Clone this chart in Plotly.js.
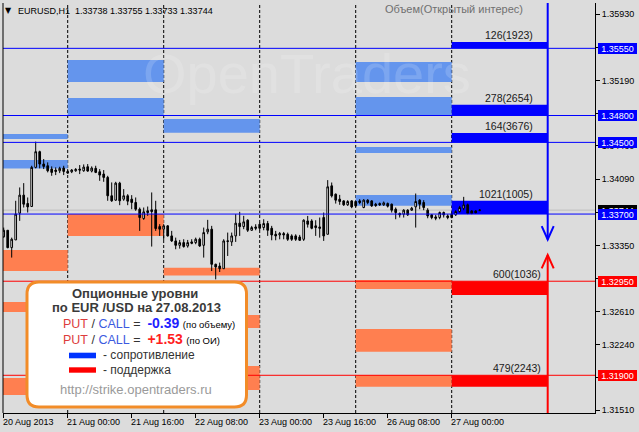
<!DOCTYPE html>
<html><head><meta charset="utf-8">
<script src="https://cdn.plot.ly/plotly-3.0.1.min.js"></script>
<style>html,body{margin:0;padding:0;background:#dcdcdc;}#chart{width:639px;height:432px;}</style>
</head><body><div id="chart"></div>
<script>
// ---------- DATA ----------
const symbolHeader = 'EURUSD,H1  1.33738 1.33755 1.33733 1.33744';
const xTickIdx = [0, 16, 32, 48, 64, 80, 96, 112];
const xTickText = ['20 Aug 2013','21 Aug 00:00','21 Aug 16:00','22 Aug 08:00','23 Aug 00:00','23 Aug 16:00','26 Aug 08:00','27 Aug 00:00'];
const yTickVals = [1.35930,1.35560,1.35190,1.34820,1.34460,1.34090,1.33720,1.33350,1.32980,1.32610,1.32240,1.31870,1.31510];
const daySeparators = [16, 40, 64, 88, 112];
const dayEdges = [-8, 16, 40, 64, 88, 112, 136];

const opens = [1.33445,1.33519,1.33325,1.33411,1.33710,1.33911,1.33818,1.33784,1.34221,1.34396,
1.34258,1.34239,1.34202,1.34191,1.34183,1.34213,1.34176,1.34172,1.34183,1.34202,
1.34183,1.34228,1.34180,1.34210,1.34172,1.34146,1.34109,1.33904,1.33855,1.34045,
1.33866,1.33904,1.33866,1.33829,1.33754,1.33650,1.33736,1.33747,1.33747,1.33560,
1.33531,1.33568,1.33456,1.33400,1.33351,1.33381,1.33344,1.33389,1.33381,1.33419,
1.33351,1.33501,1.33531,1.33139,1.33120,1.33090,1.33393,1.33389,1.33456,1.33598,
1.33560,1.33631,1.33519,1.33556,1.33586,1.33549,1.33594,1.33541,1.33474,1.33467,
1.33482,1.33474,1.33456,1.33456,1.33444,1.33418,1.33623,1.33623,1.33568,1.33556,
1.33661,1.33474,1.34015,1.33922,1.33866,1.33847,1.33803,1.33847,1.33840,1.33847,
1.33773,1.33855,1.33847,1.33810,1.33817,1.33803,1.33817,1.33810,1.33754,1.33706,
1.33698,1.33743,1.33743,1.33780,1.33855,1.33829,1.33743,1.33691,1.33668,1.33661,
1.33717,1.33679,1.33698,1.33691,1.33728,1.33765,1.33803,1.33735,1.33735,1.33738];
const highs = [1.33549,1.33519,1.33437,1.33848,1.33997,1.34045,1.33885,1.34239,1.34508,1.34407,
1.34314,1.34277,1.34232,1.34221,1.34228,1.34239,1.34202,1.34202,1.34213,1.34247,
1.34254,1.34258,1.34232,1.34239,1.34202,1.34191,1.34127,1.34053,1.34060,1.34060,
1.33978,1.33922,1.33911,1.33885,1.33773,1.33773,1.33784,1.33941,1.33848,1.33587,
1.33587,1.33575,1.33512,1.33437,1.33411,1.33419,1.33411,1.33419,1.33437,1.33437,
1.33549,1.33635,1.33568,1.33146,1.33158,1.33419,1.33493,1.33493,1.33699,1.33725,
1.33680,1.33642,1.33568,1.33586,1.33605,1.33642,1.33623,1.33568,1.33512,1.33500,
1.33500,1.33493,1.33474,1.33474,1.33467,1.33642,1.33679,1.33642,1.33631,1.33661,
1.33717,1.34079,1.34052,1.33929,1.33914,1.33855,1.33855,1.33855,1.33847,1.33866,
1.33866,1.33866,1.33855,1.33825,1.33829,1.33840,1.33829,1.33817,1.33773,1.33717,
1.33754,1.33754,1.33780,1.33929,1.33866,1.33855,1.33765,1.33698,1.33691,1.33728,
1.33728,1.33698,1.33717,1.33743,1.33791,1.33892,1.33817,1.33743,1.33743,1.33755];
const lows = [1.33437,1.33318,1.33214,1.33411,1.33624,1.33773,1.33717,1.33784,1.34210,1.34210,
1.34202,1.34165,1.34127,1.34135,1.34157,1.34135,1.34150,1.34157,1.34172,1.34146,
1.34172,1.34172,1.34165,1.34157,1.34071,1.34060,1.33848,1.33836,1.33848,1.33799,
1.33848,1.33799,1.33754,1.33736,1.33512,1.33635,1.33680,1.33337,1.33512,1.33456,
1.33411,1.33449,1.33389,1.33307,1.33314,1.33325,1.33325,1.33363,1.33363,1.33333,
1.33214,1.33475,1.33064,1.32971,1.33053,1.33090,1.33232,1.33344,1.33389,1.33456,
1.33531,1.33500,1.33512,1.33519,1.33519,1.33519,1.33456,1.33407,1.33407,1.33418,
1.33418,1.33400,1.33400,1.33400,1.33400,1.33400,1.33549,1.33530,1.33456,1.33437,
1.33400,1.33474,1.33885,1.33817,1.33803,1.33791,1.33791,1.33765,1.33780,1.33810,
1.33765,1.33810,1.33780,1.33780,1.33791,1.33791,1.33773,1.33717,1.33642,1.33661,
1.33661,1.33679,1.33735,1.33549,1.33754,1.33743,1.33653,1.33642,1.33631,1.33642,
1.33661,1.33642,1.33653,1.33679,1.33717,1.33743,1.33698,1.33698,1.33706,1.33733];
const closes = [1.33519,1.33325,1.33419,1.33699,1.33911,1.33810,1.33780,1.34221,1.34396,1.34258,
1.34232,1.34183,1.34165,1.34176,1.34210,1.34176,1.34157,1.34191,1.34198,1.34191,
1.34224,1.34180,1.34213,1.34165,1.34135,1.34109,1.33904,1.33848,1.34045,1.33848,
1.33904,1.33844,1.33829,1.33754,1.33661,1.33725,1.33717,1.33728,1.33538,1.33531,
1.33568,1.33456,1.33400,1.33351,1.33381,1.33337,1.33381,1.33374,1.33419,1.33344,
1.33493,1.33531,1.33139,1.33109,1.33090,1.33400,1.33400,1.33456,1.33598,1.33560,
1.33613,1.33519,1.33549,1.33541,1.33541,1.33594,1.33519,1.33467,1.33456,1.33482,
1.33467,1.33418,1.33418,1.33418,1.33407,1.33631,1.33586,1.33541,1.33549,1.33541,
1.33456,1.34004,1.33903,1.33855,1.33840,1.33803,1.33840,1.33780,1.33791,1.33829,
1.33855,1.33829,1.33791,1.33795,1.33803,1.33825,1.33788,1.33743,1.33717,1.33691,
1.33743,1.33691,1.33765,1.33840,1.33810,1.33773,1.33679,1.33661,1.33653,1.33717,
1.33691,1.33661,1.33661,1.33728,1.33773,1.33803,1.33706,1.33706,1.33713,1.33744];

const lastPrice = 1.33744;
const resistLevels = [1.35550, 1.34800, 1.34500, 1.33700];
const supportLevels = [1.32950, 1.31900];
const callTops = [1.35620, 1.34921, 1.34604, 1.33849];
const callLabels = ['126(1923)', '278(2654)', '164(3676)', '1021(1005)'];
const putBottoms = [1.32796, 1.31773];
const putLabels = ['600(1036)', '479(2243)'];

// past-day zones (day index into dayEdges)
const callZoneDay = [0, 0, 1, 1, 2, 4, 4, 4, 4];
const callZoneLo = [1.34537, 1.34208, 1.35174, 1.34800, 1.34608, 1.35174, 1.34800, 1.34381, 1.33793];
const callZoneHi = [1.34593, 1.34303, 1.35419, 1.34995, 1.34761, 1.35397, 1.35006, 1.34448, 1.33912];
const putZoneDay = [0, 0, 0, 1, 2, 2, 2, 4, 4, 4];
const putZoneLo = [1.33064, 1.32606, 1.31680, 1.33455, 1.33015, 1.32428, 1.31736, 1.32863, 1.32163, 1.31773];
const putZoneHi = [1.33299, 1.32718, 1.31870, 1.33700, 1.33101, 1.32573, 1.32004, 1.32965, 1.32417, 1.31903];

const arrowX = 136;
const downArrowTip = 1.33416;
const upArrowTip = 1.33243;

const legendTitle1 = 'Опционные уровни';
const legendTitle2 = 'по EUR /USD на 27.08.2013';
const ratioVolume = '-0.39';
const ratioOI = '+1.53';
const legendUrl = 'http://strike.opentraders.ru';

// ---------- LAYOUT HELPERS ----------
const X_RANGE = [-0.175, 147.825];
const Y_RANGE = [1.31479, 1.36056];
const PX = x => (x - 3) / 592;
const PY = y => (413 - y) / 410;
const SANS = '"Liberation Sans", Arial, sans-serif';
const LIGHT_BLUE = '#6495ED', LIGHT_ORANGE = '#FF7F50', BLUE = '#0000FF', RED = '#FF0000';

const barIndex = opens.map((_, i) => i);

const traces = [{
  type: 'candlestick', x: barIndex, open: opens, high: highs, low: lows, close: closes,
  increasing: {line: {color: '#000', width: 1}, fillcolor: '#FFFFFF'},
  decreasing: {line: {color: '#000', width: 1}, fillcolor: '#000000'},
  whiskerwidth: 0, hoverinfo: 'skip', showlegend: false
}];

const shapes = [];
const rect = (x0, x1, y0, y1, color, layer) => ({type: 'rect', xref: 'x', yref: 'y', x0, x1, y0, y1, fillcolor: color, line: {width: 0}, layer});

callZoneDay.forEach((d, i) => shapes.push(rect(dayEdges[d], dayEdges[d + 1], callZoneLo[i], callZoneHi[i], LIGHT_BLUE, 'below')));
putZoneDay.forEach((d, i) => shapes.push(rect(dayEdges[d], dayEdges[d + 1], putZoneLo[i], putZoneHi[i], LIGHT_ORANGE, 'below')));
const today0 = dayEdges[5], today1 = dayEdges[6];
resistLevels.forEach((lv, i) => shapes.push(rect(today0, today1, lv, callTops[i], BLUE, 'below')));
supportLevels.forEach((lv, i) => shapes.push(rect(today0, today1, putBottoms[i], lv, RED, 'below')));
daySeparators.forEach(x => shapes.push({type: 'line', xref: 'x', yref: 'paper', x0: x, x1: x, y0: 0, y1: 1, line: {color: '#000', width: 1, dash: '3px,2px'}, layer: 'below'}));
shapes.push({type: 'line', xref: 'paper', yref: 'y', x0: 0, x1: 1, y0: lastPrice, y1: lastPrice, line: {color: '#BEBEBE', width: 1}, layer: 'below'});
resistLevels.forEach(lv => shapes.push({type: 'line', xref: 'paper', yref: 'y', x0: 0, x1: 1, y0: lv, y1: lv, line: {color: BLUE, width: 1}, layer: 'above'}));
supportLevels.forEach(lv => shapes.push({type: 'line', xref: 'paper', yref: 'y', x0: 0, x1: 1, y0: lv, y1: lv, line: {color: RED, width: 1}, layer: 'above'}));
// arrows
const armDx = 1.5, armDy = 0.0015;
shapes.push({type: 'line', xref: 'x', yref: 'y', x0: arrowX, x1: arrowX, y0: Y_RANGE[1], y1: downArrowTip, line: {color: BLUE, width: 2}});
shapes.push({type: 'path', xref: 'x', yref: 'y', path: `M ${arrowX - armDx},${downArrowTip + armDy} L ${arrowX},${downArrowTip} L ${arrowX + armDx},${downArrowTip + armDy}`, line: {color: BLUE, width: 2}});
shapes.push({type: 'line', xref: 'x', yref: 'y', x0: arrowX, x1: arrowX, y0: Y_RANGE[0], y1: upArrowTip, line: {color: RED, width: 2}});
shapes.push({type: 'path', xref: 'x', yref: 'y', path: `M ${arrowX - armDx},${upArrowTip - armDy} L ${arrowX},${upArrowTip} L ${arrowX + armDx},${upArrowTip - armDy}`, line: {color: RED, width: 2}});
// left frame line
shapes.push({type: 'line', xref: 'paper', yref: 'paper', x0: 0, x1: 0, y0: 0, y1: 1, line: {color: '#000', width: 1}});
// legend box
{
  const x0 = PX(27), x1 = PX(246.5), y0 = PY(407), y1 = PY(282), rx = 12 / 592, ry = 12 / 410;
  shapes.push({type: 'path', xref: 'paper', yref: 'paper', fillcolor: '#FFFFFF', line: {color: '#F28C28', width: 3},
    path: `M ${x0 + rx},${y1} L ${x1 - rx},${y1} Q ${x1},${y1} ${x1},${y1 - ry} L ${x1},${y0 + ry} Q ${x1},${y0} ${x1 - rx},${y0} L ${x0 + rx},${y0} Q ${x0},${y0} ${x0},${y0 + ry} L ${x0},${y1 - ry} Q ${x0},${y1} ${x0 + rx},${y1} Z`});
  shapes.push({type: 'rect', xref: 'paper', yref: 'paper', x0: PX(69), x1: PX(96), y0: PY(358.3), y1: PY(352.7), fillcolor: '#0033FF', line: {width: 0}});
  shapes.push({type: 'rect', xref: 'paper', yref: 'paper', x0: PX(69), x1: PX(96), y0: PY(372.7), y1: PY(367.3), fillcolor: '#FF0000', line: {width: 0}});
}

const annotations = [];
const note = (o) => annotations.push(Object.assign({showarrow: false, borderpad: 0, borderwidth: 0, xanchor: 'center', yanchor: 'middle'}, o));
// watermark
note({xref: 'paper', yref: 'paper', x: PX(307), y: PY(73), text: 'OpenTraders', font: {family: SANS, size: 56, color: 'rgba(255,255,255,0.16)'}});
// header
note({xref: 'paper', yref: 'paper', x: PX(5), y: PY(10.5), xanchor: 'left', text: '▼', font: {family: 'DejaVu Sans', size: 8, color: '#000'}});
note({xref: 'paper', yref: 'paper', x: PX(17.5), y: PY(10.5), xanchor: 'left', text: symbolHeader.replace(/ /g, '\u00a0'), font: {family: SANS, size: 9, color: '#000'}});
note({xref: 'paper', yref: 'paper', x: PX(385), y: PY(9), xanchor: 'left', text: 'Объем(Открытый интерес)', font: {family: SANS, size: 11, color: '#707070'}});
// x tick labels
xTickIdx.forEach((x, i) => note({xref: 'x', yref: 'paper', x: x, y: 0, xanchor: 'left', yanchor: 'top', xshift: -1, yshift: -4, text: xTickText[i], font: {family: SANS, size: 9, color: '#000'}}));
// price tags
const tag = (lv, bg) => note({xref: 'paper', yref: 'y', x: 1, y: lv, xanchor: 'left', yanchor: 'middle', xshift: 3, width: 39, height: 11, bgcolor: bg, text: lv.toFixed(5), font: {family: SANS, size: 9, color: '#FFFFFF'}});
tag(lastPrice, '#000000');
resistLevels.forEach(lv => tag(lv, BLUE));
supportLevels.forEach(lv => tag(lv, RED));
// today labels
callLabels.forEach((t, i) => note({xref: 'x', yref: 'y', x: 132.3, y: callTops[i], xanchor: 'right', yanchor: 'bottom', yshift: 1, text: t, font: {family: SANS, size: 10.5, color: '#1a1a1a'}}));
putLabels.forEach((t, i) => note({xref: 'x', yref: 'y', x: 134.4, y: supportLevels[i], xanchor: 'right', yanchor: 'bottom', yshift: 1, text: t, font: {family: SANS, size: 10.5, color: '#1a1a1a'}}));
// legend texts
const NB = '\u00a0';
note({xref: 'paper', yref: 'paper', x: PX(134.5), y: PY(293.3), text: '<b>' + legendTitle1 + '</b>', font: {family: SANS, size: 13, color: '#3a3a3a'}});
note({xref: 'paper', yref: 'paper', x: PX(136.3), y: PY(307.7), text: '<b>' + legendTitle2 + '</b>', font: {family: SANS, size: 13, color: '#3a3a3a'}});
const ratioLine = (val, valColor, tail) =>
  '<span style="color:#DD3C3C">PUT</span>' + NB + '/' + NB + '<span style="color:#3C5AE0">CALL</span>' + NB + '=' + NB + NB +
  '<b><span style="color:' + valColor + ';font-size:14px">' + val + '</span></b>' + NB + '<span style="font-size:9.5px;color:#000">' + tail + '</span>';
note({xref: 'paper', yref: 'paper', x: PX(63), y: PY(323.3), xanchor: 'left', text: ratioLine(ratioVolume, '#1F1FFF', '(по объему)'), font: {family: SANS, size: 12.5, color: '#333'}});
note({xref: 'paper', yref: 'paper', x: PX(63), y: PY(339.3), xanchor: 'left', text: ratioLine(ratioOI, '#FF1F1F', '(по ОИ)'), font: {family: SANS, size: 12.5, color: '#333'}});
note({xref: 'paper', yref: 'paper', x: PX(103), y: PY(355.3), xanchor: 'left', text: '- сопротивление', font: {family: SANS, size: 12, color: '#333'}});
note({xref: 'paper', yref: 'paper', x: PX(103), y: PY(369.5), xanchor: 'left', text: '- поддержка', font: {family: SANS, size: 12, color: '#333'}});
note({xref: 'paper', yref: 'paper', x: PX(135.5), y: PY(389), text: legendUrl, font: {family: SANS, size: 13, color: '#9a9a9a'}});

const layout = {
  width: 639, height: 432, margin: {l: 3, r: 44, t: 3, b: 19, pad: 0},
  paper_bgcolor: '#DCDCDC', plot_bgcolor: '#DCDCDC', showlegend: false, boxgap: 0.4,
  xaxis: {range: X_RANGE, rangeslider: {visible: false}, showgrid: false, zeroline: false, showline: true, linecolor: '#000', linewidth: 1,
    tickmode: 'array', tickvals: xTickIdx, ticktext: xTickText, showticklabels: false, ticks: 'outside', ticklen: 4, tickcolor: '#000', fixedrange: true},
  yaxis: {range: Y_RANGE, side: 'right', showgrid: false, zeroline: false, showline: true, linecolor: '#000', linewidth: 1,
    tickmode: 'array', tickvals: yTickVals, ticktext: yTickVals.map(v => v.toFixed(5)), ticks: 'outside', ticklen: 4, tickcolor: '#000',
    tickfont: {family: SANS, size: 9, color: '#000'}, fixedrange: true},
  shapes: shapes, annotations: annotations
};
Plotly.newPlot('chart', traces, layout, {displayModeBar: false, staticPlot: true});
</script></body></html>
